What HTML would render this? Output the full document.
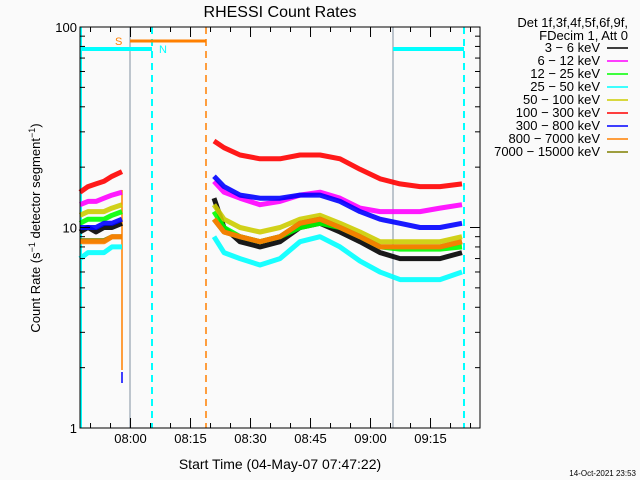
<!DOCTYPE html>
<html><head><meta charset="utf-8"><style>
body{margin:0;background:#fafafa;}
svg{display:block;font-family:"Liberation Sans",sans-serif;}
</style></head><body>
<svg id="c" width="640" height="480">
<rect width="640" height="480" fill="#fafafa"/>
<text x="280" y="17" font-size="16" text-anchor="middle">RHESSI Count Rates</text>
<text x="280" y="469" font-size="14" text-anchor="middle">Start Time (04-May-07 07:47:22)</text>
<text transform="translate(40,228) rotate(-90)" font-size="13" text-anchor="middle">Count Rate (s<tspan dy="-5" font-size="9">−1</tspan><tspan dy="5"> detector segment</tspan><tspan dy="-5" font-size="9">−1</tspan><tspan dy="5">)</tspan></text>
<text x="636" y="476" font-size="8" text-anchor="end">14-Oct-2021 23:53</text>
<g id="marks"></g>
<g id="axes"></g>
<g id="legend" font-size="13"></g>
</svg>
<script>
const seg1Times=[0,2,4,6,8,10.5];
const seg2Times=[33.5,36,40,45,50,55,60,65,70,75,80,85,90,95.5];
const bandNames=["3 - 6 keV","6 - 12 keV","12 - 25 keV","25 - 50 keV","50 - 100 keV","100 - 300 keV","300 - 800 keV","800 - 7000 keV","7000 - 15000 keV"];
const bandColors=["#000000","#ff00ff","#00ff00","#00ffff","#cccc00","#ff0000","#0000ff","#ff8000","#808000"];
const seg1Black=[9.5,10,9.5,10,10,10.5];
const seg1Magenta=[13,13.5,13.5,14,14.5,15];
const seg1Green=[10.5,11,11,11,11.5,12];
const seg1Cyan=[7,7.5,7.5,7.5,8,8];
const seg1Yellow=[11.5,12,12,12,12.5,13];
const seg1Red=[15,16,16.5,17,18,19];
const seg1Blue=[10,10,10,10.5,10.5,11];
const seg1Orange=[8.5,8.5,8.5,8.5,9,9];
const seg1Olive=[8.6,8.6,8.6,8.6,9,9];
const seg2Black=[14,10,8.5,8,8.5,10,10.5,9.5,8.5,7.5,7,7,7,7.5];
const seg2Magenta=[17,15,14,13,13.5,14.5,15,14,12.5,12,12,12,12.5,13];
const seg2Green=[12,10,9,8.5,9,10,10.5,10,9,8,7.8,7.8,7.8,8];
const seg2Cyan=[9,7.5,7,6.5,7,8.5,9,8,6.8,6,5.5,5.5,5.5,6];
const seg2Yellow=[13,11,10,9.5,10,11,11.5,10.5,9.5,8.5,8.5,8.5,8.5,9];
const seg2Red=[27,25,23,22,22,23,23,22,19.5,17.5,16.5,16,16,16.5];
const seg2Blue=[18,16,14.5,14,14,14.5,14.5,13.5,12,11,10.5,10,10,10.5];
const seg2Orange=[11,9.5,9,8.5,9,10.5,11,10,9,8,8,8,8,8.5];
const seg2Olive=[11,9.5,9,8.5,9,10.5,11,10,9,8,8,8,8,8.5];
const xTickLabels=["08:00","08:15","08:30","08:45","09:00","09:15"];
const xTickMinutes=[12.63,27.63,42.63,57.63,72.63,87.63];
const yTickValues=[1,10,100];

const NS="http://www.w3.org/2000/svg";
const L=80,R=480,T=27,B=428;
function xs(t){return L+4*t;}
function ys(v){return B-(B-T)/2*Math.log10(v);}
function mk(tag,attrs,parent){const e=document.createElementNS(NS,tag);for(const k in attrs)e.setAttribute(k,attrs[k]);parent.appendChild(e);return e;}
const marks=document.getElementById('marks'),axes=document.getElementById('axes'),leg=document.getElementById('legend');

let e;
e=mk('line',{x1:130,y1:T,x2:130,y2:B,stroke:'#8090a0','stroke-width':1},marks);


e=mk('line',{x1:393,y1:T,x2:393,y2:B,stroke:'#8090a0','stroke-width':1},marks);


e=mk('line',{x1:81,y1:T,x2:81,y2:B,stroke:'#00ffff','stroke-width':2},marks);


e=mk('line',{x1:152,y1:T,x2:152,y2:B,stroke:'#00ffff','stroke-width':2,'stroke-dasharray':'7,5'},marks);


e=mk('line',{x1:206,y1:T,x2:206,y2:B,stroke:'#ff8000','stroke-width':1.5,'stroke-dasharray':'7,5'},marks);


e=mk('line',{x1:464,y1:T,x2:464,y2:B,stroke:'#00ffff','stroke-width':2,'stroke-dasharray':'7,5'},marks);


e=mk('line',{x1:130,y1:41,x2:206,y2:41,stroke:'#ff8000','stroke-width':3},marks);


e=mk('line',{x1:80,y1:49,x2:152,y2:49,stroke:'#00ffff','stroke-width':4},marks);


e=mk('line',{x1:393,y1:49,x2:464,y2:49,stroke:'#00ffff','stroke-width':4},marks);


e=mk('text',{x:115,y:45,fill:'#ff8000','font-size':11},marks);e.textContent='S';


e=mk('text',{x:159,y:53,fill:'#00ffff','font-size':11},marks);e.textContent='N';


e=mk('line',{x1:122,y1:190,x2:122,y2:370,stroke:'#ff8000','stroke-width':1.5},marks);


e=mk('line',{x1:122,y1:372,x2:122,y2:383,stroke:'#0000ff','stroke-width':1.5},marks);



const series=[
 [0,seg1Black,seg2Black],[1,seg1Magenta,seg2Magenta],[2,seg1Green,seg2Green],[3,seg1Cyan,seg2Cyan],
 [4,seg1Yellow,seg2Yellow],[8,seg1Olive,seg2Olive],[5,seg1Red,seg2Red],[6,seg1Blue,seg2Blue],[7,seg1Orange,seg2Orange]];
series.forEach(([i,a,b])=>{
  [[seg1Times,a,'seg1'],[seg2Times,b,'seg2']].forEach(([tt,vv,s])=>{
    const d=tt.map((t,k)=>(k?'L':'M')+xs(t).toFixed(1)+','+ys(vv[k]).toFixed(1)).join(' ');
    const p=mk('path',{d:d,fill:'none',stroke:bandColors[i],'stroke-width':5,'stroke-linejoin':'round','stroke-opacity':0.9},marks);
    
    
  });
});

e=mk('rect',{x:L,y:T,width:R-L,height:B-T,fill:'none',stroke:'#000','stroke-width':1},axes);


for(let dec=0;dec<2;dec++){for(let m=1;m<10;m++){const v=Math.pow(10,dec)*m;const y=ys(v);const len=m==1?10:5;
 mk('line',{x1:L,y1:y,x2:L+len,y2:y,stroke:'#000'},axes);mk('line',{x1:R,y1:y,x2:R-len,y2:y,stroke:'#000'},axes);}}
yTickValues.forEach(v=>{const t=mk('text',{x:L-3,y:ys(v)+5,'font-size':13,'text-anchor':'end'},axes);t.textContent=String(v);
 
 });
for(let m=2.63;m<=100;m+=5){const x=xs(m);const major=xTickMinutes.some(q=>Math.abs(q-m)<0.1);const len=major?10:5;
 mk('line',{x1:x,y1:B,x2:x,y2:B-len,stroke:'#000'},axes);mk('line',{x1:x,y1:T,x2:x,y2:T+len,stroke:'#000'},axes);}
xTickLabels.forEach((s,i)=>{const t=mk('text',{x:xs(xTickMinutes[i]),y:B+15,'font-size':13,'text-anchor':'middle'},axes);t.textContent=s;
 
 });

e=mk('text',{x:628,y:27,'text-anchor':'end'},leg);e.textContent='Det 1f,3f,4f,5f,6f,9f,';


e=mk('text',{x:628,y:40,'text-anchor':'end'},leg);e.textContent='FDecim 1, Att 0';


bandNames.forEach((n,i)=>{const y=52+i*13;
 const t=mk('text',{x:600,y:y,'text-anchor':'end'},leg);t.textContent=n.replace(/-/g,' − ');
 
 
 mk('line',{x1:607,y1:y-4,x2:628,y2:y-4,stroke:bandColors[i],'stroke-width':1.5},leg);});
</script>
</body></html>
